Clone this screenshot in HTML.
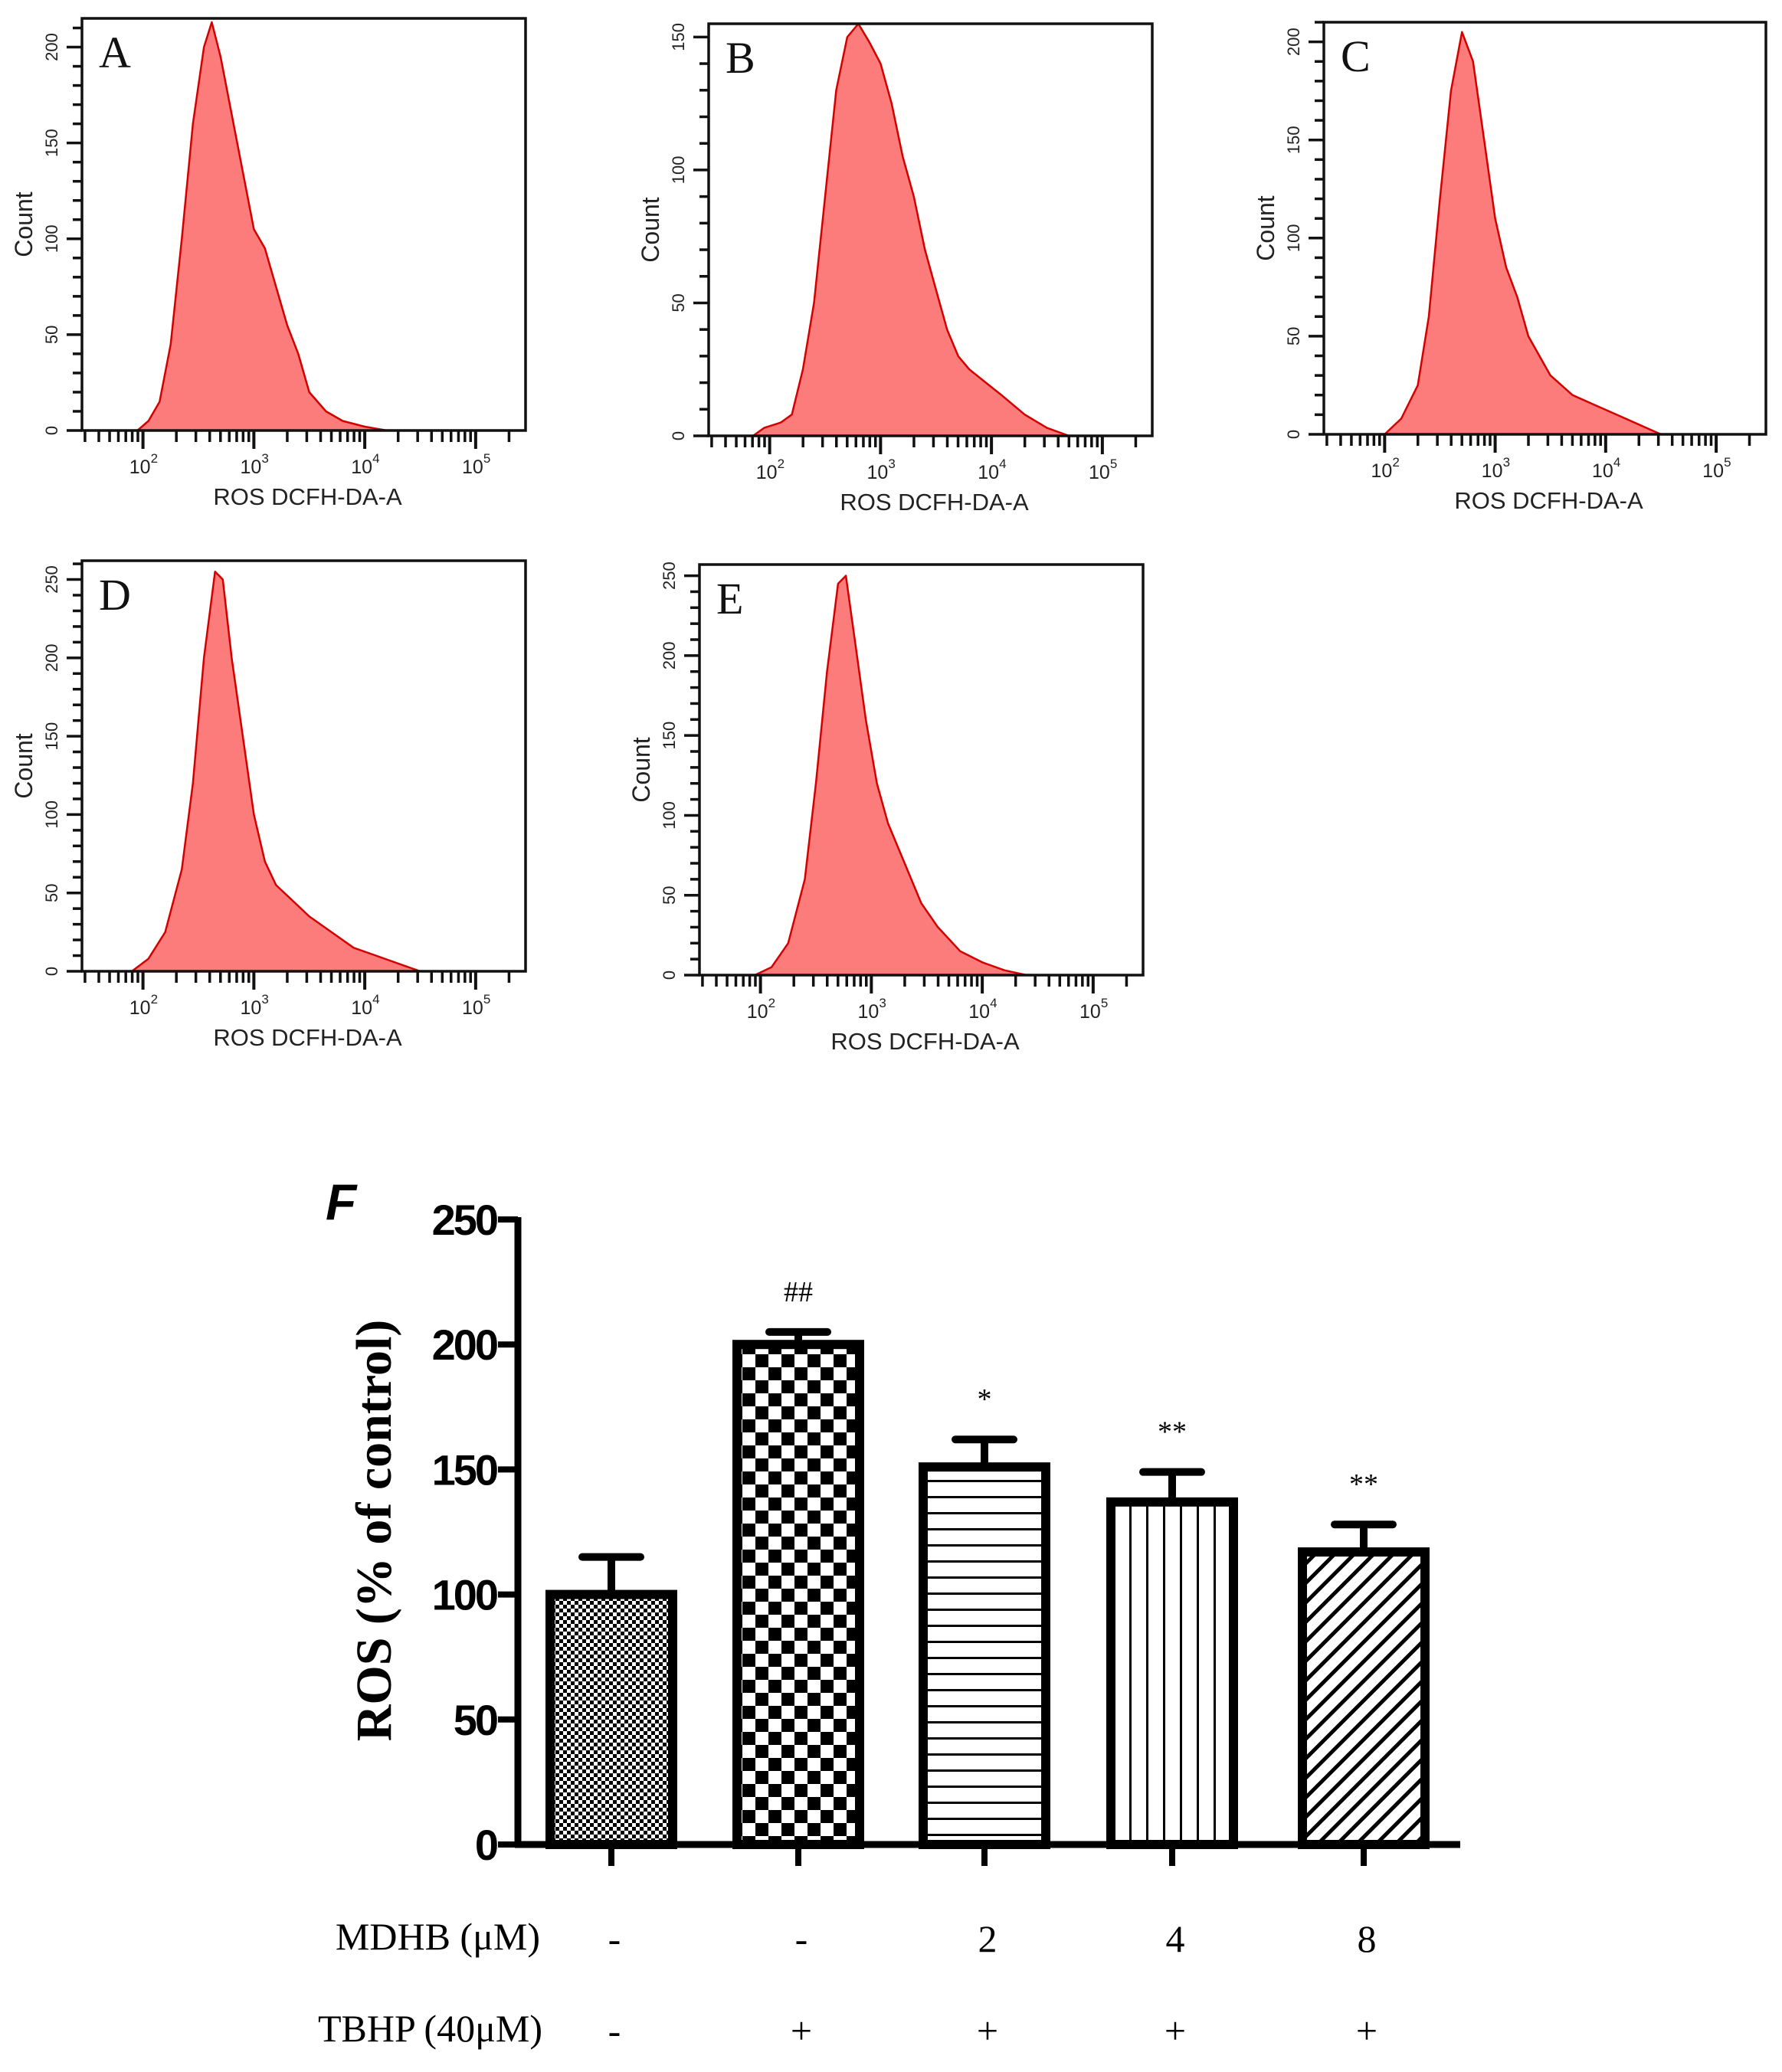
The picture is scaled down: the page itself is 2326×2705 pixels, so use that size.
<!DOCTYPE html>
<html><head><meta charset="utf-8">
<style>
html,body{margin:0;padding:0;background:#fff;}
svg{display:block;}
</style></head>
<body>
<svg id="fig" xmlns="http://www.w3.org/2000/svg" width="2326" height="2705" viewBox="0 0 2326 2705">
<defs>
 <pattern id="pat-dots" patternUnits="userSpaceOnUse" width="10" height="10">
  <rect width="10" height="10" fill="#fff"/><rect width="5" height="5" fill="#000"/><rect x="5" y="5" width="5" height="5" fill="#000"/>
 </pattern>
 <pattern id="pat-check" patternUnits="userSpaceOnUse" width="34" height="34">
  <rect width="34" height="34" fill="#fff"/><rect width="17" height="17" fill="#000"/><rect x="17" y="17" width="17" height="17" fill="#000"/>
 </pattern>
 <pattern id="pat-h" patternUnits="userSpaceOnUse" width="20" height="21">
  <rect width="20" height="21" fill="#fff"/><rect y="0" width="20" height="3" fill="#000"/>
 </pattern>
 <pattern id="pat-v" patternUnits="userSpaceOnUse" width="22" height="20">
  <rect width="22" height="20" fill="#fff"/><rect x="0" width="3" height="20" fill="#000"/>
 </pattern>
 <pattern id="pat-d" patternUnits="userSpaceOnUse" width="18" height="18" patternTransform="rotate(45)">
  <rect width="18" height="18" fill="#fff"/><rect x="0" width="5" height="18" fill="#000"/>
 </pattern>
</defs>
<g id="hists"></g>
<g id="bars"></g>
</svg>
<script>
// ---------- Histogram data (log10 fluorescence, count) ----------
const histA_x = [1.95,2.05,2.15,2.25,2.35,2.45,2.55,2.62,2.7,2.8,2.9,3.0,3.1,3.2,3.3,3.4,3.5,3.65,3.8,4.0,4.2];
const histA_y = [0,5,15,45,100,160,200,213,195,165,135,105,95,75,55,40,20,10,5,2,0];
const histB_x = [1.85,1.95,2.1,2.2,2.3,2.4,2.5,2.6,2.7,2.8,2.9,3.0,3.1,3.2,3.3,3.4,3.5,3.6,3.7,3.8,3.95,4.1,4.3,4.5,4.7];
const histB_y = [0,3,5,8,25,50,90,130,150,155,148,140,125,105,90,70,55,40,30,25,20,15,8,3,0];
const histC_x = [2.0,2.15,2.3,2.4,2.5,2.6,2.7,2.8,2.9,3.0,3.1,3.2,3.3,3.4,3.5,3.7,3.9,4.1,4.3,4.5];
const histC_y = [0,8,25,60,120,175,205,190,150,110,85,70,50,40,30,20,15,10,5,0];
const histD_x = [1.9,2.05,2.2,2.35,2.45,2.55,2.65,2.72,2.8,2.9,3.0,3.1,3.2,3.35,3.5,3.7,3.9,4.1,4.3,4.5];
const histD_y = [0,8,25,65,120,200,255,250,200,150,100,70,55,45,35,25,15,10,5,0];
const histE_x = [1.95,2.1,2.25,2.4,2.5,2.6,2.7,2.77,2.85,2.95,3.05,3.15,3.3,3.45,3.6,3.8,4.0,4.2,4.4];
const histE_y = [0,5,20,60,120,190,245,250,210,160,120,95,70,45,30,15,8,3,0];
const panelLetters = ["A","B","C","D","E"];
const panelYMax = [215,155,210,262,257];
const panelYTicks = [[0,50,100,150,200],[0,50,100,150],[0,50,100,150,200],[0,50,100,150,200,250],[0,50,100,150,200,250]];
const xDecades = [2,3,4,5];

// ---------- Bar chart data ----------
const barCategories = ["control","TBHP","MDHB 2","MDHB 4","MDHB 8"];
const barValues = [100,200,151,137,117];
const barErrors = [15,5,11,12,11];
const barSig = ["","##","*","**","**"];
const mdhbLabels = ["-","-","2","4","8"];
const tbhpLabels = ["-","+","+","+","+"];
const yTickValues = [0,50,100,150,200,250];

const NS="http://www.w3.org/2000/svg";
function mk(tag,attrs,parent,text){const e=document.createElementNS(NS,tag);for(const k in attrs)e.setAttribute(k,attrs[k]);if(text!==undefined)e.textContent=text;parent.appendChild(e);return e;}

// ---------- Histograms ----------
const boxes=[[107,24,686,562],[925,31,1504,569],[1728,29,2305,567],[107,732,686,1268],[913,737,1492,1273]];
const hx=[histA_x,histB_x,histC_x,histD_x,histE_x], hy=[histA_y,histB_y,histC_y,histD_y,histE_y];
const hg=document.getElementById('hists');
boxes.forEach((b,i)=>{
  const [x0,y0,x1,y1]=b;
  const g=mk('g',{},hg);
  
  
  const lo=1.45,hi=5.45;
  const X=v=>x0+(v-lo)/(hi-lo)*(x1-x0);
  const Y=c=>y1-c/panelYMax[i]*(y1-y0);
  let d='M'+X(hx[i][0])+','+y1;
  hx[i].forEach((v,k)=>{d+=' L'+X(v).toFixed(1)+','+Y(hy[i][k]).toFixed(1);});
  d+=' L'+X(hx[i][hx[i].length-1])+','+y1+' Z';
  const p=mk('path',{d:d,fill:'#fc7c7c',stroke:'#d40000','stroke-width':2.5,'stroke-linejoin':'round'},g);
  
  
  const r=mk('rect',{x:x0,y:y0,width:x1-x0,height:y1-y0,fill:'none',stroke:'#111','stroke-width':3.5},g);
  
  
  for(let dec=1;dec<=5;dec++){for(let m=1;m<=9;m++){const v=dec+Math.log10(m);if(v<lo+0.02||v>hi)continue;
    mk('line',{x1:X(v),x2:X(v),y1:y1,y2:y1+(m===1?24:15),stroke:'#111','stroke-width':m===1?4:3.5},g);}}
  xDecades.forEach(dv=>{
    const t=mk('text',{x:X(dv)-4,y:y1+56,'font-family':'Liberation Sans, sans-serif','font-size':25,'text-anchor':'middle',fill:'#222'},g,'10');
    
    
    mk('text',{x:X(dv)+10,y:y1+42,'font-family':'Liberation Sans, sans-serif','font-size':17,fill:'#222'},g,String(dv));
  });
  const xl=mk('text',{x:(x0+x1)/2+5,y:y1+97,'font-family':'Liberation Sans, sans-serif','font-size':31,'text-anchor':'middle',fill:'#222'},g,'ROS DCFH-DA-A');
  
  
  for(let c=0;c<=panelYMax[i];c+=10){const major=c%50===0;
    mk('line',{x1:x0-(major?20:12),x2:x0,y1:Y(c),y2:Y(c),stroke:'#111','stroke-width':3.5},g);}
  panelYTicks[i].forEach(c=>{
    const t=mk('text',{x:0,y:0,transform:`translate(${x0-32},${Y(c)}) rotate(-90)`,'font-family':'Liberation Sans, sans-serif','font-size':22,'text-anchor':'middle',fill:'#222'},g,String(c));
    
    
  });
  const yl=mk('text',{x:0,y:0,transform:`translate(${x0-65},${(y0+y1)/2}) rotate(-90)`,'font-family':'Liberation Sans, sans-serif','font-size':32,'text-anchor':'middle',fill:'#222'},g,'Count');
  
  
  const L=mk('text',{x:x0+22,y:y0+64,'font-family':'Liberation Serif, serif','font-size':58,fill:'#111'},g,panelLetters[i]);
  
  
});

// ---------- Bar chart ----------
const bg=document.getElementById('bars');
const axX=676, y0v=2408, pxPer=(2408-1592)/250;
const Yb=v=>y0v-v*pxPer;
const centers=[798,1042,1285,1530,1780];
const pats=['pat-dots','pat-check','pat-h','pat-v','pat-d'];
const bw=160;
const F=mk('text',{x:425,y:1592,'font-family':'Liberation Sans, sans-serif','font-size':66,'font-weight':'bold','font-style':'italic',fill:'#000'},bg,'F');


barValues.forEach((v,i)=>{
  const cx=centers[i];
  const eg=mk('g',{},bg);
  
  
  mk('line',{x1:cx,x2:cx,y1:Yb(v),y2:Yb(v+barErrors[i]),stroke:'#000','stroke-width':10},eg);
  mk('line',{x1:cx-38,x2:cx+38,y1:Yb(v+barErrors[i]),y2:Yb(v+barErrors[i]),stroke:'#000','stroke-width':10,'stroke-linecap':'round'},eg);
  const r=mk('rect',{x:cx-bw/2,y:Yb(v),width:bw,height:y0v-Yb(v),fill:`url(#${pats[i]})`,stroke:'#000','stroke-width':12},bg);
  
  
  if(barSig[i]){
    const s=mk('text',{x:cx,y:Yb(v+barErrors[i])-40,'font-family':'Liberation Serif, serif','font-size':38,'text-anchor':'middle',fill:'#000'},bg,barSig[i]);
    
    
  }
  mk('line',{x1:cx,x2:cx,y1:y0v,y2:y0v+28,stroke:'#000','stroke-width':8},bg);
  const m=mk('text',{x:cx+4,y:2548,'font-family':'Liberation Serif, serif','font-size':50,'text-anchor':'middle',fill:'#000'},bg,mdhbLabels[i]);
  
  
  const t=mk('text',{x:cx+4,y:2668,'font-family':'Liberation Serif, serif','font-size':50,'text-anchor':'middle',fill:'#000'},bg,tbhpLabels[i]);
  
  
});
const ya=mk('line',{x1:axX,x2:axX,y1:1589,y2:y0v+4,stroke:'#000','stroke-width':9},bg);


const xa=mk('line',{x1:axX-4,x2:1906,y1:y0v,y2:y0v,stroke:'#000','stroke-width':9},bg);


yTickValues.forEach(v=>{
  mk('line',{x1:axX-26,x2:axX,y1:Yb(v),y2:Yb(v),stroke:'#000','stroke-width':8},bg);
  const t=mk('text',{x:axX-28,y:Yb(v)+20,'font-family':'Liberation Sans, sans-serif','font-size':56,'font-weight':'bold','text-anchor':'end',fill:'#000','letter-spacing':'-3'},bg,String(v));
  
  
});
const yt=mk('text',{x:0,y:0,transform:'translate(510,1998) rotate(-90)','font-family':'Liberation Serif, serif','font-size':66,'font-weight':'bold','text-anchor':'middle',fill:'#000'},bg,'ROS (% of control)');


const ml=mk('text',{x:705,y:2545,'font-family':'Liberation Serif, serif','font-size':50,'text-anchor':'end',fill:'#000'},bg,'MDHB (μM)');


const tl=mk('text',{x:708,y:2665,'font-family':'Liberation Serif, serif','font-size':50,'text-anchor':'end',fill:'#000'},bg,'TBHP (40μM)');


</script>
</body></html>
